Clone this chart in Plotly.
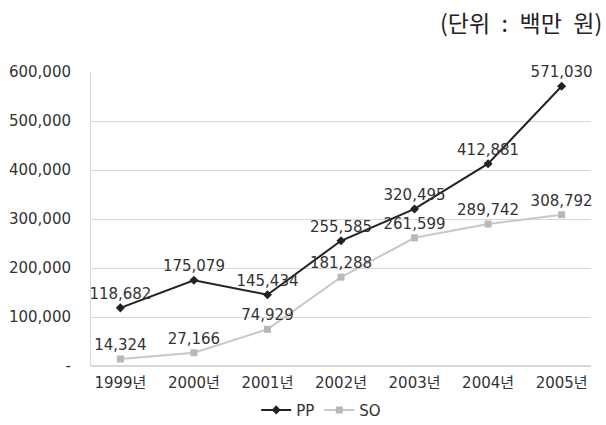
import plotly.graph_objects as go

years = ["1999년", "2000년", "2001년", "2002년", "2003년", "2004년", "2005년"]
pp = [118682, 175079, 145434, 255585, 320495, 412881, 571030]
so = [14324, 27166, 74929, 181288, 261599, 289742, 308792]
tick_vals = [0, 100000, 200000, 300000, 400000, 500000, 600000]
tick_text = ["-", "100,000", "200,000", "300,000", "400,000", "500,000", "600,000"]

font = "DejaVu Sans, Noto Sans CJK KR, sans-serif"

W, H = 606, 425
L, R, T, B = 91, 15, 72, 59

fig = go.Figure()
fig.add_trace(go.Scatter(
    x=years, y=pp, name="PP", mode="lines+markers+text",
    line=dict(color="#222222", width=2),
    marker=dict(symbol="diamond", size=7, color="#222222"),
    text=[f"{v:,}" for v in pp], textposition="top center",
    textfont=dict(size=15, color="#333333", family=font),
    cliponaxis=False,
))
fig.add_trace(go.Scatter(
    x=years, y=so, name="SO", mode="lines+markers+text",
    line=dict(color="#c8c8c8", width=2),
    marker=dict(symbol="square", size=7, color="#b8b8b8"),
    text=[f"{v:,}" for v in so], textposition="top center",
    textfont=dict(size=15, color="#333333", family=font),
    cliponaxis=False,
))

fig.update_layout(
    width=W, height=H,
    margin=dict(l=L, r=R, t=T, b=B, autoexpand=False),
    paper_bgcolor="white", plot_bgcolor="white",
    font=dict(family=font, size=15, color="#333333"),
    showlegend=True,
    legend=dict(orientation="h", x=0.53, xanchor="center", xref="container",
                y=0.035, yanchor="middle", yref="container",
                font=dict(size=15, color="#333333"), itemwidth=30),
    xaxis=dict(showgrid=False, showline=False, ticks="", zeroline=False,
               ticklabelstandoff=6),
    yaxis=dict(range=[0, 600000], tickvals=tick_vals, ticktext=tick_text,
               showgrid=True, gridcolor="#d8d8d8", gridwidth=1,
               showline=True, linecolor="#d8d8d8", zeroline=True, zerolinecolor="#d8d8d8",
               ticks="", ticklabelstandoff=16),
    annotations=[dict(text="(단위\u2002:\u2002백만\u2002원)",
                      x=(W - 2 - L) / (W - L - R), xref="paper", xanchor="right",
                      y=1.0 + (T - 22) / (H - T - B), yref="paper", yanchor="middle",
                      showarrow=False,
                      font=dict(size=23, family="Noto Sans CJK KR", color="#222222"))],
)

fig.write_html("out.html")
